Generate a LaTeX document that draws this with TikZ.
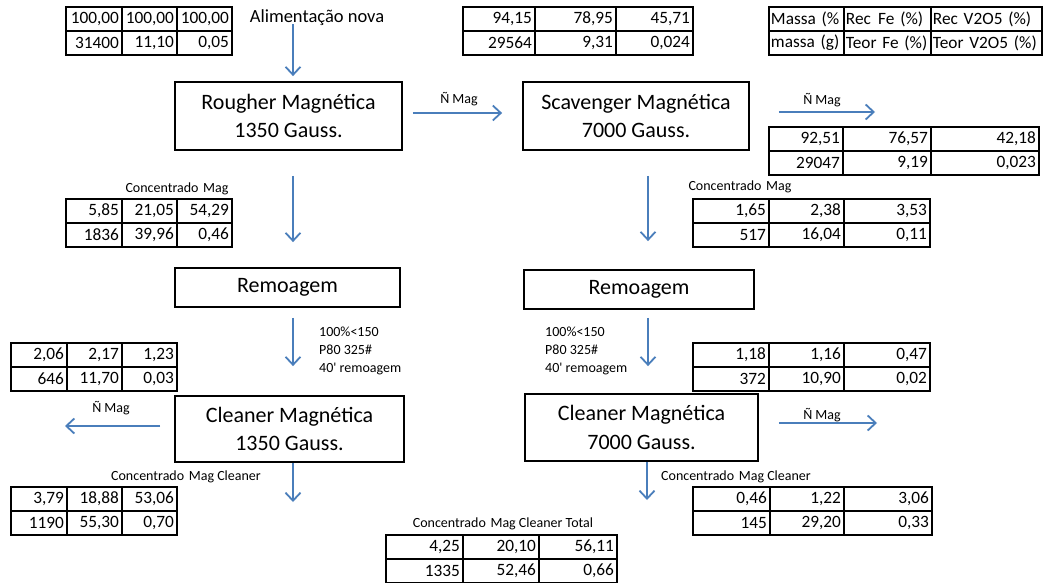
\documentclass[tikz,border=0pt]{standalone}
\usepackage{fontspec}
\setmainfont{Carlito}
\usetikzlibrary{arrows.meta,calc}
\definecolor{flowblue}{RGB}{74,126,187}
\newcommand\tabfont{\fontsize{17.3}{20}\selectfont}
\newcommand\boxfont{\fontsize{22}{28.5}\selectfont}
\newcommand\labfont{\fontsize{14}{18}\selectfont}
\newcommand\feedfont{\fontsize{18.5}{22}\selectfont}
\newcommand\wsp{\hspace{1.5pt} }
\def\talign{right}
\def\tpad{3}
\newcommand\tc[5]{%
  \pgfmathsetmacro\tcw{#4-2*\tpad}%
  \node[tcell, inner xsep=\tpad pt, align=\talign, text width=\tcw pt, anchor=north west] (#1) at (#2,#3) {\hbox{#5}};}
\newcommand\trow[9]{%
  \tc{#1a}{#3}{#2}{#4}{#7}%
  \tc{#1b}{#3+#4}{#2}{#5}{#8}%
  \tc{#1c}{#3+#4+#5}{#2}{#6}{#9}}
\begin{document}
\begin{tikzpicture}[x=1pt,y=-1pt,
  tcell/.style={draw, line width=1.9pt, inner ysep=0pt, minimum height=24pt, font=\tabfont},
  procbox/.style={draw, line width=1.8pt, align=center, font=\boxfont, inner sep=0pt},
  flow/.style={draw=flowblue, line width=1.8pt, -{Straight Barb[length=8pt,width=15pt]}},
  lab/.style={font=\labfont, inner sep=0pt}]
\useasboundingbox[fill=white] (0,0) rectangle (1044,583);

% process boxes
\node[procbox, minimum width=227pt, minimum height=68pt] (rough) at (288.5,116) {Rougher Magnética\\1350 Gauss.};
\node[procbox, minimum width=226pt, minimum height=68pt] (scav) at (636,116) {Scavenger Magnética\\7000 Gauss.};
\node[procbox, minimum width=225pt, minimum height=39pt] (remL) at (287.5,287.5) {Remoagem};
\node[procbox, minimum width=230pt, minimum height=39pt] (remR) at (639,289.5) {Remoagem};
\node[procbox, minimum width=229pt, minimum height=66pt] (cleanL) at (289.5,429) {Cleaner Magnética\\1350 Gauss.};
\node[procbox, minimum width=233pt, minimum height=67pt] (cleanR) at (641.5,427.5) {Cleaner Magnética\\7000 Gauss.};

% tables
\trow{fa}{6}{65}{56}{55}{55}{100,00}{100,00}{100,00}
\trow{fb}{30}{65}{56}{55}{55}{31400}{11,10}{0,05}
\trow{na}{6}{462}{72}{81}{77}{94,15}{78,95}{45,71}
\trow{nb}{30}{462}{72}{81}{77}{29564}{9,31}{0,024}
\def\talign{left}\def\tpad{2}
\trow{la}{6}{768}{75}{87}{111}{Massa (\%}{Rec\wsp Fe (\%)}{Rec V2O5 (\%)}
\trow{lb}{30}{768}{75}{87}{111}{massa (g)}{Teor Fe (\%)}{Teor V2O5 (\%)}
\def\talign{right}\def\tpad{3}
\trow{sa}{126}{768}{74}{88}{108}{92,51}{76,57}{42,18}
\trow{sb}{150}{768}{74}{88}{108}{29047}{9,19}{0,023}
\trow{ca}{198}{65}{56}{55}{55}{5,85}{21,05}{54,29}
\trow{cb}{222}{65}{56}{55}{55}{1836}{39,96}{0,46}
\trow{da}{198}{692}{76}{75}{86}{1,65}{2,38}{3,53}
\trow{db}{222}{692}{76}{75}{86}{517}{16,04}{0,11}
\trow{ea}{342}{10}{56}{55}{55}{2,06}{2,17}{1,23}
\trow{eb}{366}{10}{56}{55}{55}{646}{11,70}{0,03}
\trow{ga}{342}{692}{76}{75}{86}{1,18}{1,16}{0,47}
\trow{gb}{366}{692}{76}{75}{86}{372}{10,90}{0,02}
\trow{ha}{486}{10}{56}{55}{55}{3,79}{18,88}{53,06}
\trow{hb}{510}{10}{56}{55}{55}{1190}{55,30}{0,70}
\trow{ia}{486}{692}{77}{74}{88}{0,46}{1,22}{3,06}
\trow{ib}{510}{692}{77}{74}{88}{145}{29,20}{0,33}
\trow{ja}{534}{385}{77}{76}{78}{4,25}{20,10}{56,11}
\trow{jb}{558}{385}{77}{76}{78}{1335}{52,46}{0,66}

% labels
\node[lab, font=\feedfont] (feed) at (317,18) {Alimentação nova};
\node[lab] (nm1) at (459,99) {Ñ Mag};
\node[lab] (nm2) at (822,100) {Ñ Mag};
\node[lab] (nm3) at (111,408) {Ñ Mag};
\node[lab] (nm4) at (822,415) {Ñ Mag};
\node[lab] (cm1) at (177,189) {Concentrado\wsp Mag};
\node[lab] (cm2) at (740,187) {Concentrado\wsp Mag};
\node[lab] (cc1) at (186,477) {Concentrado\wsp Mag Cleaner};
\node[lab] (cc2) at (736,477) {Concentrado\wsp Mag Cleaner};
\node[lab] (ct) at (503,524) {Concentrado\wsp Mag Cleaner Total};
\node[lab, align=left, anchor=west] (grL) at (319,351) {100\%<150\\P80 325\#\\40\textquotesingle{} remoagem};
\node[lab, align=left, anchor=west] (grR) at (545,351) {100\%<150\\P80 325\#\\40\textquotesingle{} remoagem};

% connectors
\coordinate (colL) at (293,0);
\coordinate (colR) at (648,0);
\coordinate (scavOut) at (875,112);
\coordinate (cleanLOut) at (65,426);
\coordinate (cleanLDown) at (293,502);
\coordinate (cleanROut) at (877,423);
\coordinate (cleanRDown) at (647,500);
\draw[flow, shorten <=-2pt, shorten >=5pt] (feed.south -| colL) -- (rough.north -| colL);
\draw[flow, shorten <=10pt, shorten >=20pt] ([yshift=3pt]rough.east) -- ([yshift=3pt]scav.west);
\draw[flow, shorten <=29pt] (scav.east |- scavOut) -- (scavOut);
\draw[flow, shorten <=25pt, shorten >=25pt] (rough.south -| colL) -- (remL.north -| colL);
\draw[flow, shorten <=10pt, shorten >=29pt] (remL.south -| colL) -- (cleanL.north -| colL);
\draw[flow, shorten <=14pt] (cleanL.west |- cleanLOut) -- (cleanLOut);
\draw[flow] (cleanL.south -| colL) -- (cleanLDown);
\draw[flow, shorten <=25pt, shorten >=28pt] (scav.south -| colR) -- (remR.north -| colR);
\draw[flow, shorten <=8pt, shorten >=27pt] (remR.south -| colR) -- (cleanR.north -| colR);
\draw[flow, shorten <=20pt] (cleanR.east |- cleanROut) -- (cleanROut);
\draw[flow] (cleanR.south -| cleanRDown) -- (cleanRDown);
\end{tikzpicture}
\end{document}
